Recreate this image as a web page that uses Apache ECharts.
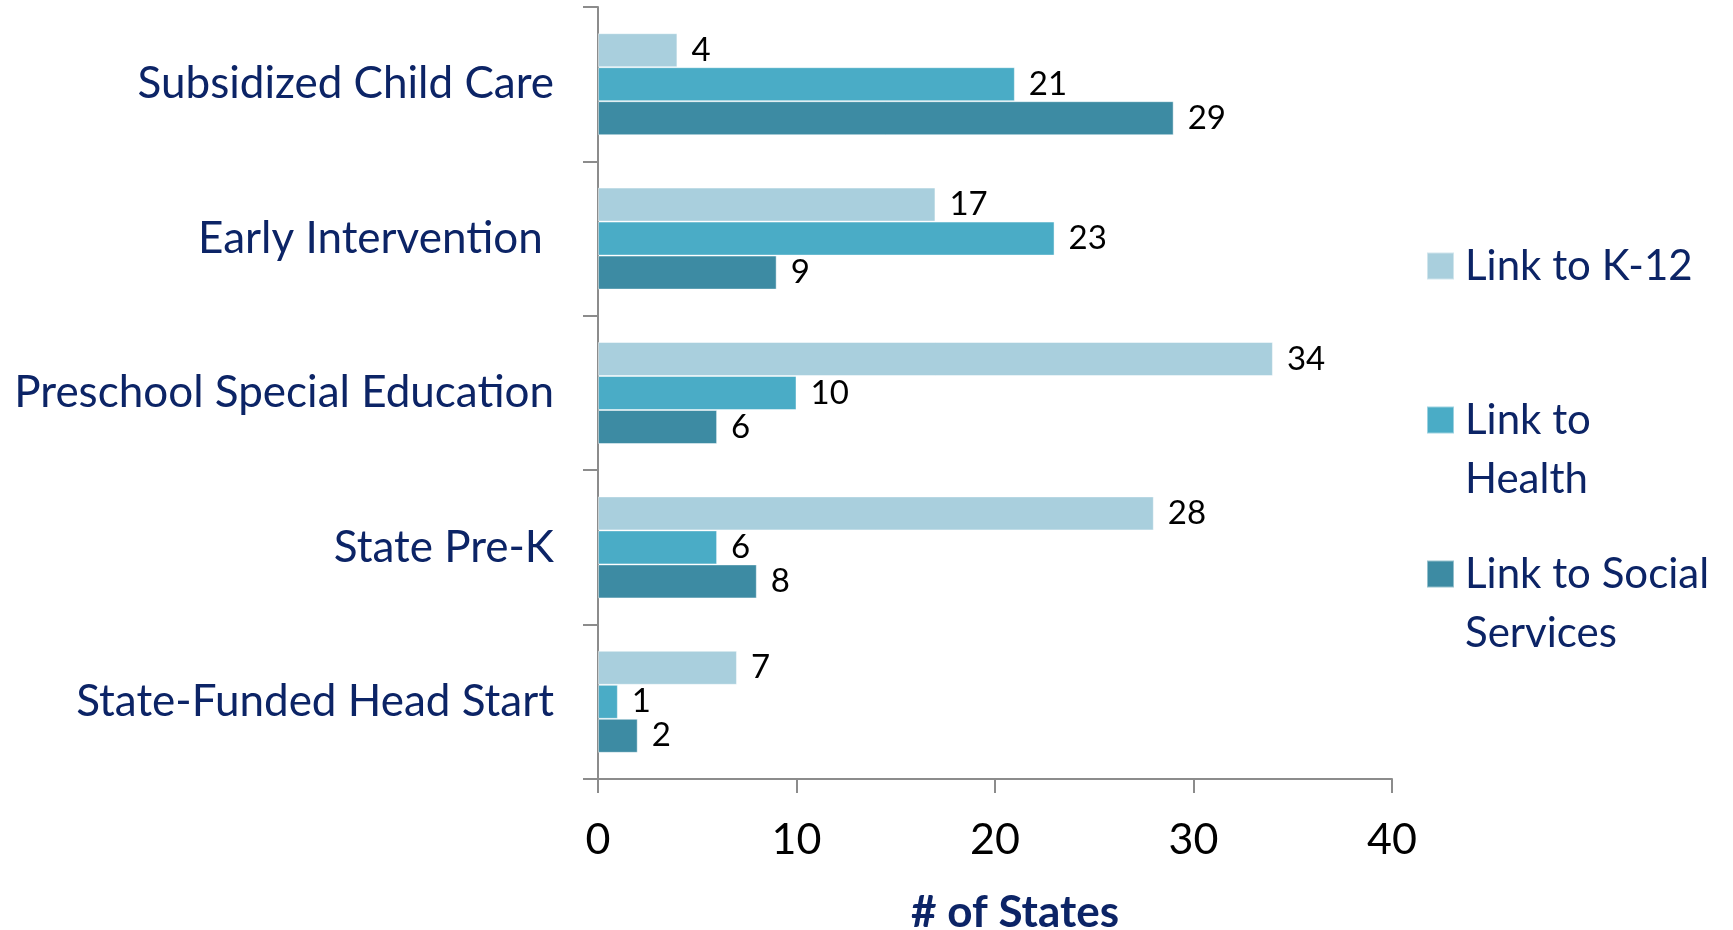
<!DOCTYPE html>
<html>
<head>
<meta charset="utf-8">
<script src="https://cdn.jsdelivr.net/npm/echarts@6/dist/echarts.min.js"></script>
<style>
  html, body { margin: 0; padding: 0; background: #fff; }
  #chart { width: 1733px; height: 930px; }
</style>
</head>
<body>
<div id="chart"></div>
<script>
// Programs, top to bottom
const categories = [
  'Subsidized Child Care',
  'Early Intervention ',
  'Preschool Special Education',
  'State Pre-K',
  'State-Funded Head Start'
];
const seriesNames = ['Link to K-12', 'Link to Health', 'Link to Social Services'];
// Number of states per link type
const linkK12 = [4, 17, 34, 28, 7];
const linkHealth = [21, 23, 10, 6, 1];
const linkSocial = [29, 9, 6, 8, 2];
const xTicks = [0, 10, 20, 30, 40];

const colors = ['#a9cfdd', '#4aacc6', '#3d8ba3'];
const navy = '#0c2466';
const font = 'Lato';

const seriesData = [linkK12, linkHealth, linkSocial];

// Legend text lines; wrapped entries keep the swatch level with the first line
const legendLines = {
  'Link to K-12': ['Link to K-12'],
  'Link to Health': ['Link to', 'Health'],
  'Link to Social Services': ['Link to Social', 'Services']
};
const legendCenters = [266, 420, 574];
const legendLineHeight = 59;

function legendText(name) {
  const lines = legendLines[name].map(l => '{g|}' + l);
  if (lines.length > 1) lines.unshift('{g|}');
  return lines.join('\n');
}

const chart = echarts.init(document.getElementById('chart'), null, { renderer: 'canvas' });

chart.setOption({
  animation: false,
  textStyle: { fontFamily: font },
  grid: {
    left: 598, right: 341, top: 7, bottom: 151,
    containLabel: false,
    outerBoundsMode: 'none'
  },
  legend: seriesNames.map((name, i) => {
    const nLines = legendLines[name].length > 1 ? legendLines[name].length + 1 : 1;
    return {
      data: [name],
      orient: 'vertical',
      left: 1426,
      top: legendCenters[i] - nLines * legendLineHeight / 2,
      padding: 0,
      itemWidth: 27,
      itemHeight: 27,
      icon: 'rect',
      selectedMode: false,
      formatter: legendText,
      textStyle: {
        color: navy,
        fontSize: 42,
        fontFamily: font,
        lineHeight: legendLineHeight,
        rich: {
          g: { width: 6, lineHeight: legendLineHeight }
        }
      }
    };
  }),
  xAxis: {
    type: 'value',
    min: xTicks[0],
    max: xTicks[xTicks.length - 1],
    interval: 10,
    splitLine: { show: false },
    axisLine: { show: true, lineStyle: { color: '#8c8c8c', width: 2 } },
    axisTick: { show: true, length: 14, lineStyle: { color: '#8c8c8c', width: 2 } },
    axisLabel: { color: '#000', fontSize: 43, fontFamily: font, margin: 40 },
    name: '# of States',
    nameLocation: 'middle',
    nameGap: 112,
    nameTextStyle: {
      color: navy,
      fontSize: 44,
      fontWeight: 'bold',
      fontFamily: font,
      padding: [0, 0, 0, 40]
    }
  },
  yAxis: {
    type: 'category',
    data: categories,
    inverse: true,
    axisLine: { show: true, lineStyle: { color: '#8c8c8c', width: 2 } },
    axisTick: { show: true, length: 15, lineStyle: { color: '#8c8c8c', width: 2 } },
    axisLabel: { color: navy, fontSize: 44, fontFamily: font, margin: 44 },
    splitLine: { show: false }
  },
  series: seriesNames.map((name, i) => ({
    name: name,
    type: 'bar',
    data: seriesData[i],
    barWidth: 34,
    barGap: '0%',
    itemStyle: {
      color: colors[i],
      borderColor: 'rgba(255,255,255,0.45)',
      borderWidth: 1
    },
    label: {
      show: true,
      position: 'right',
      distance: 14,
      color: '#000',
      fontSize: 33,
      fontFamily: font
    }
  }))
});
</script>
</body>
</html>
